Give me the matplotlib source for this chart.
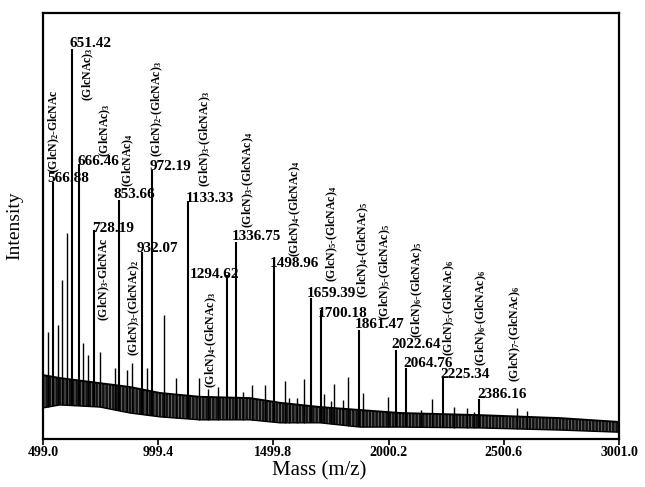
import numpy as np
import matplotlib
matplotlib.use("Agg")
import matplotlib.pyplot as plt

plt.rcParams['font.family'] = ['Liberation Serif', 'DejaVu Serif']
plt.rcParams['font.weight'] = 'bold'
plt.rcParams['mathtext.fontset'] = 'custom'
plt.rcParams['mathtext.rm'] = 'Liberation Serif:bold'
plt.rcParams['mathtext.it'] = 'Liberation Serif:bold'
plt.rcParams['mathtext.bf'] = 'Liberation Serif:bold'
plt.rcParams['hatch.linewidth'] = 0.6

# labelled peaks (position on the axis as drawn, label, relative intensity)
peak_mz = [541, 627, 657, 722, 829, 928, 971, 1128, 1297, 1336,
           1502, 1662, 1705, 1872, 2031, 2075, 2235, 2394]
peak_label = ['566.88', '651.42', '666.46', '728.19', '853.66', '932.07',
              '972.19', '1133.33', '1294.62', '1336.75', '1498.96', '1659.39',
              '1700.18', '1861.47', '2022.64', '2064.76', '2225.34', '2386.16']
peak_int = [60.3, 91.5, 64.6, 49.1, 56.1, 43.9, 63.1, 55.9, 38.5, 46.2,
            41.1, 33.1, 30.3, 25.6, 20.9, 16.7, 14.6, 9.4]
glcn_n = [2, 0, 0, 3, 0, 3, 2, 3, 4, 3, 4, 5, 4, 5, 6, 5, 6, 7]
glcnac_n = [1, 3, 3, 1, 4, 2, 3, 3, 3, 4, 4, 4, 5, 5, 5, 6, 6, 6]

# smaller unlabelled peaks
minor_mz = [522, 565, 583, 602, 674, 696, 747, 812, 863, 887, 949, 1025,
            1077, 1178, 1216, 1258, 1368, 1406, 1463, 1550, 1568, 1604, 1633,
            1721, 1750, 1763, 1801, 1823, 1890, 1999, 2140, 2190, 2286, 2340,
            2373, 2557, 2600]
minor_int = [25.1, 26.8, 37.3, 48.4, 22.5, 19.7, 20.4, 16.7, 16.2, 17.8,
             16.7, 29.1, 14.3, 14.3, 11.7, 12.2, 11.0, 12.7, 12.7, 13.6, 9.6,
             9.6, 14.1, 10.6, 8.9, 12.9, 9.2, 14.6, 10.8, 9.9, 6.8, 9.4, 7.5,
             7.3, 6.3, 7.3, 6.6]

# noise band envelope
band_mz = [499, 573, 747, 877, 1007, 1181, 1398, 1528, 1702, 1876, 2050,
           2397, 2745, 3001]
band_hi = [15.0, 14.3, 13.1, 12.2, 10.8, 9.9, 9.6, 8.5, 7.5, 6.8, 6.1,
           5.6, 4.9, 4.0]
band_lo = [7.3, 8.0, 7.5, 6.1, 5.2, 4.5, 4.5, 3.8, 3.8, 2.8, 2.8,
           2.6, 2.1, 1.6]

xticks = [499.0, 999.4, 1499.8, 2000.2, 2500.6, 3001.0]

# label placement: number label (left x, baseline y), composition label (centre x, y, side)
num_xy = [(516, 60.3), (612, 92.0), (650, 64.3), (714, 48.6), (807, 56.6),
          (907, 43.9), (964, 63.1), (1120, 55.6), (1138, 37.8), (1320, 46.7),
          (1485, 40.4), (1644, 33.3), (1694, 28.6), (1854, 26.1), (2014, 21.4),
          (2063, 16.9), (2223, 14.3), (2384, 9.6)]
comp_xy = [(547, 62.4, 'bottom'), (694, 92.0, 'top'), (768, 66.2, 'bottom'),
           (764, 47.4, 'top'), (868, 59.2, 'bottom'), (894, 42.0, 'top'),
           (994, 66.2, 'bottom'), (1203, 59.2, 'bottom'), (1229, 34.5, 'top'),
           (1389, 49.5, 'bottom'), (1594, 42.7, 'bottom'), (1754, 36.9, 'bottom'),
           (1889, 33.1, 'bottom'), (1985, 27.9, 'bottom'), (2124, 23.7, 'bottom'),
           (2262, 19.5, 'bottom'), (2402, 17.1, 'bottom'), (2549, 13.4, 'bottom')]


def comp_text(a, b):
    if a == 0:
        return '(GlcNAc)$_{%d}$' % b
    if b == 1:
        return '(GlcN)$_{%d}$-GlcNAc' % a
    return '(GlcN)$_{%d}$-(GlcNAc)$_{%d}$' % (a, b)


fig = plt.figure(figsize=(6.45, 4.87), dpi=100)
ax = fig.add_axes([43 / 645, 48 / 487, 576 / 645, 426 / 487])

# noise band: black fill with faint vertical striation
ax.fill_between(band_mz, band_lo, band_hi, facecolor='#111111',
                edgecolor='#777777', hatch='|||||', lw=0)
ax.plot(band_mz, band_hi, color='black', lw=1.4)
ax.plot(band_mz, band_lo, color='black', lw=1.0)

base_minor = np.interp(minor_mz, band_mz, band_lo)
ax.vlines(minor_mz, base_minor, minor_int, color='black', lw=1.0)
base_major = np.interp(peak_mz, band_mz, band_lo)
ax.vlines(peak_mz, base_major, peak_int, color='black', lw=1.5)

for lab, (x, y) in zip(peak_label, num_xy):
    ax.text(x, y, lab, fontsize=11, ha='left', va='baseline')

for a, b, (x, y, side) in zip(glcn_n, glcnac_n, comp_xy):
    ax.text(x, y, comp_text(a, b), fontsize=8.5, rotation=90,
            ha='center', va=side)

ax.set_xlim(499, 3001)
ax.set_ylim(0, 100)
ax.set_xticks(xticks)
ax.set_xticklabels(['%.1f' % t for t in xticks], fontsize=10)
ax.set_yticks([])
ax.tick_params(axis='x', direction='out', length=4, width=1.2, pad=1)
for s in ax.spines.values():
    s.set_linewidth(1.6)

ax.set_xlabel('Mass (m/z)', fontsize=15)
ax.set_ylabel('Intensity', fontsize=14, labelpad=14)
ax.xaxis.set_label_coords(0.48, -0.052)

fig.savefig('out.png', dpi=100)
